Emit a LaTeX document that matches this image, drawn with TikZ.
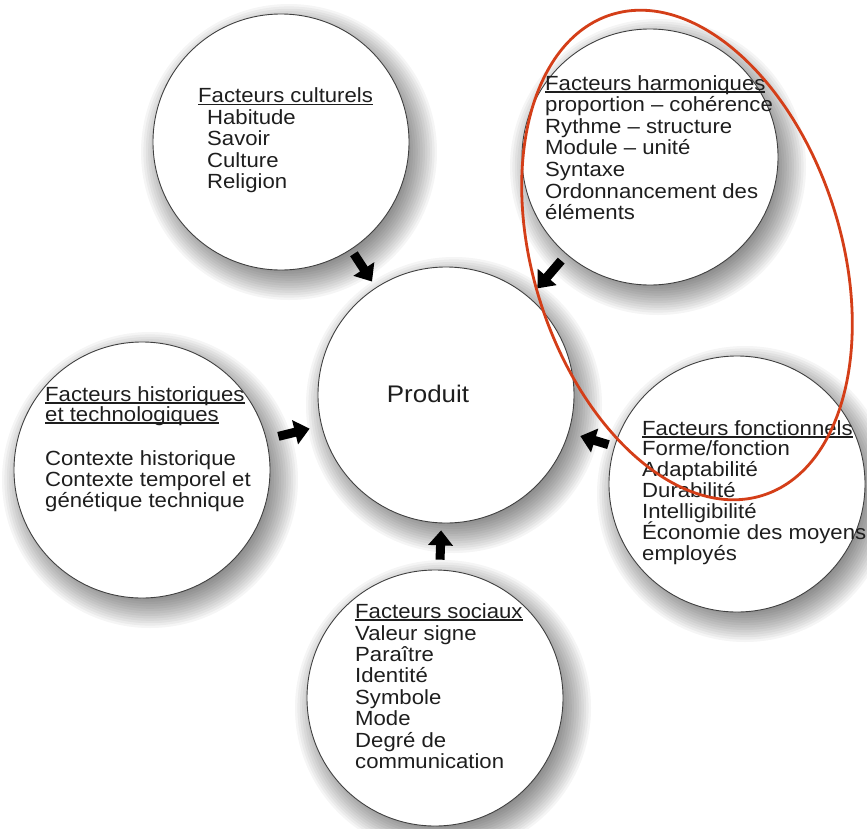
\documentclass[tikz,border=0pt]{standalone}
\usepackage{fontspec}
\setmainfont{Liberation Sans}[FakeStretch=1.08]
\usetikzlibrary{arrows.meta}
\definecolor{markred}{RGB}{212,62,24}
\definecolor{inkgray}{RGB}{30,30,30}
\newcommand\myul[1]{\setbox0=\hbox{#1}\rlap{\rule[-2.6pt]{\wd0}{1.4pt}}\box0}
\newcommand\softshadow[3]{\foreach \k in {0,...,15}{\fill[black,opacity=0.04] (#1+8,#2+10) circle[radius={#3+20-2.4*\k}];}}
\begin{document}
\begin{tikzpicture}[x=1pt,y=-1pt,
  circ/.style={circle, draw=black!75, line width=0.9pt, fill=white, minimum size=256pt, inner sep=0pt},
  txt/.style={anchor=base west, inner sep=0pt, font=\fontsize{20.5}{22}\selectfont, text=inkgray},
  blk/.style={line width=9pt, -{Triangle[width=24pt,length=15pt]}},
]
\useasboundingbox (0,0) rectangle (867,828);
\fill[white] (0,0) rectangle (867,828);
% shadows
\softshadow{281}{142}{128}
\softshadow{650}{157}{128}
\softshadow{446}{395}{128}
\softshadow{142}{470}{128}
\softshadow{737}{484}{128}
\softshadow{435}{698}{128}
% circles
\node[circ] (cult) at (281,142) {};
\node[circ] (harm) at (650,157) {};
\node[circ] (prod) at (446,395) {};
\node[circ] (hist) at (142,470) {};
\node[circ] (fonc) at (737,484) {};
\node[circ] (soc)  at (435,698) {};
% arrows
\draw[blk, shorten <=5pt, shorten >=7pt] (cult) -- (prod);
\draw[blk, shorten <=8pt, shorten >=12pt] (harm) -- (prod);
\draw[blk, shorten <=12pt, shorten >=12pt] (hist) -- (prod);
\draw[blk, shorten <=6pt, shorten >=12pt] (fonc) -- (prod);
\draw[blk, shorten <=10pt, shorten >=7pt] (soc) -- (prod);
% product label
\node[anchor=base, inner sep=0pt, font=\fontsize{24}{26}\selectfont, text=inkgray] (prodT) at (428,402) {Produit};
% culturels
\node[txt] (cultT) at (198,102.7) {\myul{Facteurs culturels}};
\foreach \t [count=\i from 0] in {Habitude,Savoir,Culture,Religion}
  \node[txt] (cultL\i) at (207,{124+21.6*\i}) {\t};
% harmoniques
\node[txt] (harmT) at (545,90) {\myul{Facteurs harmoniques}};
\foreach \t [count=\i from 0] in {proportion – cohérence,Rythme – structure,Module – unité,Syntaxe,Ordonnancement des,éléments}
  \node[txt] (harmL\i) at (545,{111.7+21.6*\i}) {\t};
% historiques
\node[txt] (histT) at (45,401) {\myul{Facteurs historiques}};
\node[txt] (histT2) at (45,421) {\myul{et technologiques}};
\foreach \t [count=\i from 0] in {Contexte historique,Contexte temporel et,génétique technique}
  \node[txt] (histL\i) at (45,{465+21*\i}) {\t};
% fonctionnels
\node[txt] (foncT) at (642,435) {\myul{Facteurs fonctionnels}};
\foreach \t [count=\i from 0] in {Forme/fonction,Adaptabilité,Durabilité,Intelligibilité,Économie des moyens,employés}
  \node[txt] (foncL\i) at (642,{455+21*\i}) {\t};
% sociaux
\node[txt] (socT) at (355,618) {\myul{Facteurs sociaux}};
\foreach \t [count=\i from 0] in {Valeur signe,Paraître,Identité,Symbole,Mode,Degré de,communication}
  \node[txt] (socL\i) at (355,{640+21.4*\i}) {\t};
% red highlight ellipse
\draw[markred, line width=2.8pt, rotate around={17.5:(687,255)}] (687,255) ellipse [x radius=154pt, y radius=252pt];
\end{tikzpicture}
\end{document}
